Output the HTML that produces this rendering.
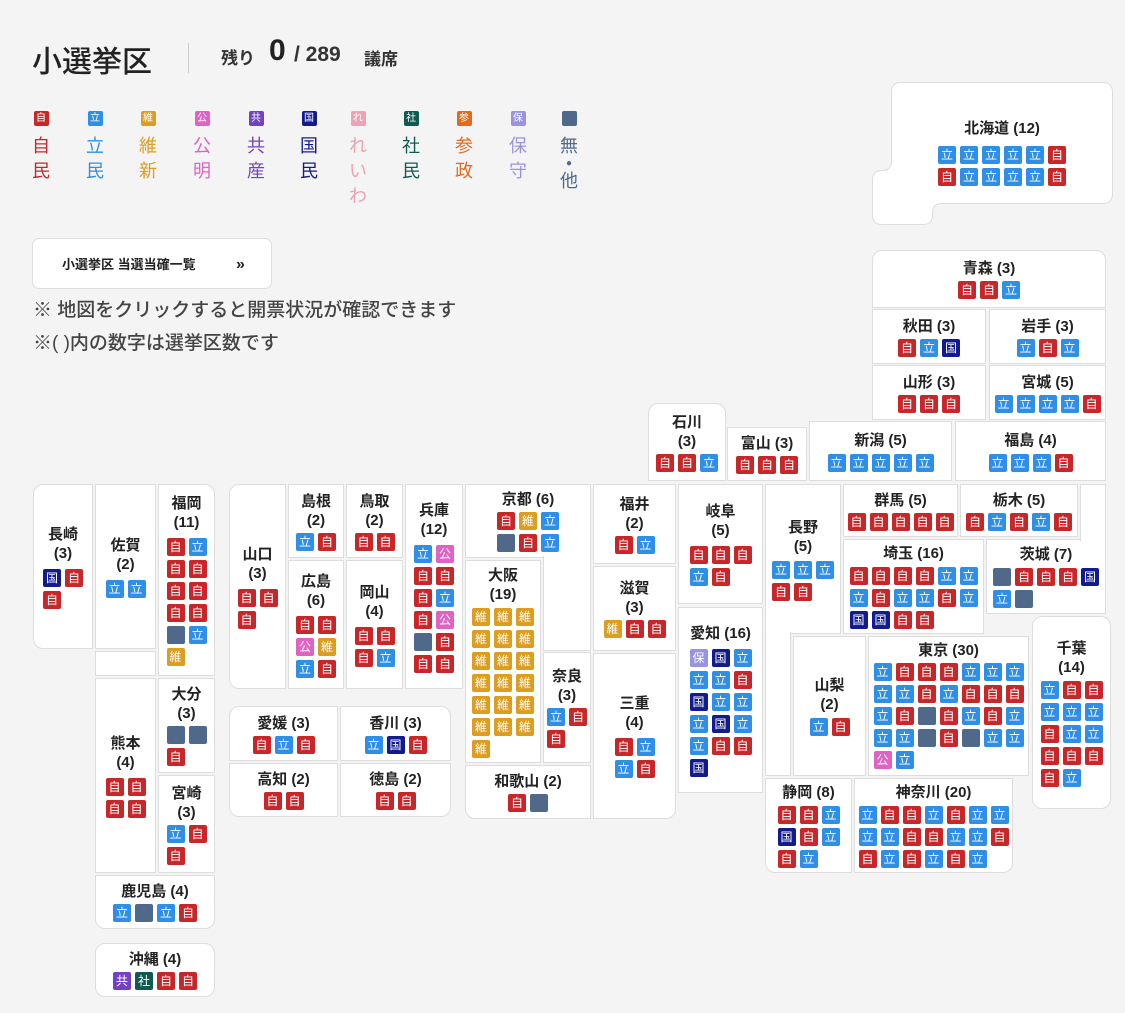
<!DOCTYPE html>
<html><head><meta charset="utf-8">
<style>
*{margin:0;padding:0;box-sizing:border-box}
body{width:1125px;height:1013px;background:#f4f4f4;position:relative;overflow:hidden;font-family:"Liberation Sans","Noto Sans CJK JP",sans-serif;color:#222}
.p{position:absolute;background:#fff;border:1px solid #ddd;display:flex;flex-direction:column;align-items:center;justify-content:center}
.t{font-weight:600;font-size:15px;line-height:19px;text-align:center;color:#222;white-space:nowrap}
.g{display:flex;flex-wrap:wrap;gap:4px;margin-top:6px}
.g i{display:block;width:18px;height:18px;border-radius:2px;color:#fff;font-style:normal;font-size:12px;line-height:18px;text-align:center}
.a{background:#c8272a}.b{background:#2f8fe6}.c{background:#dc9d20}.d{background:#e062c4}.e{background:#7242c2}.f{background:#121b8e}.g2{background:#0f5b52}.h{background:#9894e2}.m{background:#50698a}
.lg{position:absolute;top:111px;width:20px;text-align:center;font-size:18px;line-height:25px}
.lg i{display:block;width:15px;height:15px;border-radius:2px;margin:0 auto 8px;color:#fff;font-style:normal;font-size:10px;line-height:15px}
</style></head><body>

<div style="position:absolute;left:32px;top:37px;font-size:30px;font-weight:500;color:#222">小選挙区</div>
<div style="position:absolute;left:188px;top:43px;width:1px;height:30px;background:#ccc"></div>
<div style="position:absolute;left:221px;top:44px;font-size:17px;font-weight:600;color:#333">残り</div>
<div style="position:absolute;left:269px;top:34px;font-size:30px;font-weight:700;color:#222">0</div>
<div style="position:absolute;left:294px;top:43px;font-size:21px;font-weight:700;color:#333">/ 289</div>
<div style="position:absolute;left:364px;top:45px;font-size:17px;font-weight:600;color:#333">議席</div>

<div class="lg" style="left:31px;color:#c8272a"><i class="a">自</i>自<br>民</div>
<div class="lg" style="left:85px;color:#2f8fe6"><i class="b">立</i>立<br>民</div>
<div class="lg" style="left:138px;color:#dc9d20"><i class="c">維</i>維<br>新</div>
<div class="lg" style="left:192px;color:#e062c4"><i class="d">公</i>公<br>明</div>
<div class="lg" style="left:246px;color:#7242c2"><i class="e">共</i>共<br>産</div>
<div class="lg" style="left:299px;color:#121b8e"><i class="f">国</i>国<br>民</div>
<div class="lg" style="left:348px;color:#eea2b2"><i style="background:#eea2b2">れ</i>れ<br>い<br>わ</div>
<div class="lg" style="left:401px;color:#0f5b52"><i class="g2">社</i>社<br>民</div>
<div class="lg" style="left:454px;color:#e06a1e"><i style="background:#e06a1e">参</i>参<br>政</div>
<div class="lg" style="left:508px;color:#9894e2"><i class="h">保</i>保<br>守</div>
<div class="lg" style="left:559px;color:#50698a"><i class="m"></i>無<br><span style="font-size:10px;line-height:10px;display:block">●</span>他</div>

<div style="position:absolute;left:32px;top:238px;width:240px;height:51px;background:#fff;border:1px solid #ddd;border-radius:7px;font-size:13px;font-weight:700;line-height:51px;padding-left:29px;color:#222">小選挙区 当選当確一覧<span style="position:absolute;left:203px;font-size:16px">»</span></div>
<div style="position:absolute;left:33px;top:298px;font-size:19px;line-height:26px;color:#444;font-weight:500">※ 地図をクリックすると開票状況が確認できます</div>
<div style="position:absolute;left:33px;top:331px;font-size:19px;line-height:26px;color:#444;font-weight:500">※( )内の数字は選挙区数です</div>

<!-- Hokkaido -->
<svg style="position:absolute;left:0;top:0" width="1125" height="240"><path d="M901,82.5 H1102 Q1112.5,82.5 1112.5,92 V194 Q1112.5,203.5 1103,203.5 H942 Q932.5,203.5 932.5,213 V215 Q932.5,224.5 923,224.5 H882 Q872.5,224.5 872.5,215 V180 Q872.5,170.5 882,170.5 Q891.5,170.5 891.5,161 V92 Q891.5,82.5 901,82.5 Z" fill="#fff" stroke="#ddd" stroke-width="1"/></svg>
<div style="position:absolute;left:891px;top:82px;width:222px;height:122px;display:flex;flex-direction:column;align-items:center;padding-top:37px"><div class="t">北海道 (12)</div><div class="g" style="width:128px;margin-top:8px"><i class="b">立</i><i class="b">立</i><i class="b">立</i><i class="b">立</i><i class="b">立</i><i class="a">自</i><i class="a">自</i><i class="b">立</i><i class="b">立</i><i class="b">立</i><i class="b">立</i><i class="a">自</i></div></div>

<div class="p" style="left:872px;top:250px;width:234px;height:58px;border-radius:10px 10px 0 0"><div class="t">青森 (3)</div><div class="g" style="width:62px;margin-top:3px"><i class="a">自</i><i class="a">自</i><i class="b">立</i></div></div>
<div class="p" style="left:872px;top:309px;width:114px;height:55px"><div class="t">秋田 (3)</div><div class="g" style="width:62px;margin-top:3px"><i class="a">自</i><i class="b">立</i><i class="f">国</i></div></div>
<div class="p" style="left:989px;top:309px;width:117px;height:55px"><div class="t">岩手 (3)</div><div class="g" style="width:62px;margin-top:3px"><i class="b">立</i><i class="a">自</i><i class="b">立</i></div></div>
<div class="p" style="left:872px;top:365px;width:114px;height:55px"><div class="t">山形 (3)</div><div class="g" style="width:62px;margin-top:3px"><i class="a">自</i><i class="a">自</i><i class="a">自</i></div></div>
<div class="p" style="left:989px;top:365px;width:117px;height:55px"><div class="t">宮城 (5)</div><div class="g" style="width:106px;margin-top:3px"><i class="b">立</i><i class="b">立</i><i class="b">立</i><i class="b">立</i><i class="a">自</i></div></div>

<div class="p" style="left:648px;top:403px;width:78px;height:78px;border-radius:10px 10px 0 0"><div class="t">石川<br>(3)</div><div class="g" style="width:62px;margin-top:3px"><i class="a">自</i><i class="a">自</i><i class="b">立</i></div></div>
<div class="p" style="left:727px;top:427px;width:80px;height:54px"><div class="t">富山 (3)</div><div class="g" style="width:62px;margin-top:3px"><i class="a">自</i><i class="a">自</i><i class="a">自</i></div></div>
<div class="p" style="left:809px;top:421px;width:143px;height:60px"><div class="t">新潟 (5)</div><div class="g" style="width:106px;margin-top:4px"><i class="b">立</i><i class="b">立</i><i class="b">立</i><i class="b">立</i><i class="b">立</i></div></div>
<div class="p" style="left:955px;top:421px;width:151px;height:60px"><div class="t">福島 (4)</div><div class="g" style="width:84px;margin-top:4px"><i class="b">立</i><i class="b">立</i><i class="b">立</i><i class="a">自</i></div></div>

<!-- Kyushu -->
<div class="p" style="left:33px;top:484px;width:60px;height:165px;border-radius:10px 0 0 10px"><div class="t">長崎<br>(3)</div><div class="g" style="width:40px"><i class="f">国</i><i class="a">自</i><i class="a">自</i></div></div>
<div class="p" style="left:95px;top:484px;width:61px;height:165px"><div class="t">佐賀<br>(2)</div><div class="g" style="width:40px"><i class="b">立</i><i class="b">立</i></div></div>
<div class="p" style="left:95px;top:651px;width:61px;height:25px"></div>
<div class="p" style="left:158px;top:484px;width:57px;height:192px;border-radius:0 10px 0 0"><div class="t">福岡<br>(11)</div><div class="g" style="width:40px"><i class="a">自</i><i class="b">立</i><i class="a">自</i><i class="a">自</i><i class="a">自</i><i class="a">自</i><i class="a">自</i><i class="a">自</i><i class="m"></i><i class="b">立</i><i class="c">維</i></div></div>
<div class="p" style="left:95px;top:678px;width:61px;height:195px"><div class="t">熊本<br>(4)</div><div class="g" style="width:40px"><i class="a">自</i><i class="a">自</i><i class="a">自</i><i class="a">自</i></div></div>
<div class="p" style="left:158px;top:678px;width:57px;height:95px"><div class="t">大分<br>(3)</div><div class="g" style="width:40px;margin-top:3px"><i class="m"></i><i class="m"></i><i class="a">自</i></div></div>
<div class="p" style="left:158px;top:775px;width:57px;height:98px"><div class="t">宮崎<br>(3)</div><div class="g" style="width:40px;margin-top:3px"><i class="b">立</i><i class="a">自</i><i class="a">自</i></div></div>
<div class="p" style="left:95px;top:875px;width:120px;height:54px;border-radius:0 0 10px 10px"><div class="t">鹿児島 (4)</div><div class="g" style="width:84px;margin-top:3px"><i class="b">立</i><i class="m"></i><i class="b">立</i><i class="a">自</i></div></div>
<div class="p" style="left:95px;top:943px;width:120px;height:54px;border-radius:10px"><div class="t">沖縄 (4)</div><div class="g" style="width:84px;margin-top:3px"><i class="e">共</i><i class="g2">社</i><i class="a">自</i><i class="a">自</i></div></div>

<!-- Chugoku -->
<div class="p" style="left:229px;top:484px;width:57px;height:205px;border-radius:10px 0 0 10px"><div class="t">山口<br>(3)</div><div class="g" style="width:40px"><i class="a">自</i><i class="a">自</i><i class="a">自</i></div></div>
<div class="p" style="left:288px;top:484px;width:56px;height:74px"><div class="t">島根<br>(2)</div><div class="g" style="width:40px;margin-top:3px"><i class="b">立</i><i class="a">自</i></div></div>
<div class="p" style="left:346px;top:484px;width:57px;height:74px"><div class="t">鳥取<br>(2)</div><div class="g" style="width:40px;margin-top:3px"><i class="a">自</i><i class="a">自</i></div></div>
<div class="p" style="left:288px;top:560px;width:56px;height:129px"><div class="t">広島<br>(6)</div><div class="g" style="width:40px"><i class="a">自</i><i class="a">自</i><i class="d">公</i><i class="c">維</i><i class="b">立</i><i class="a">自</i></div></div>
<div class="p" style="left:346px;top:560px;width:57px;height:129px"><div class="t">岡山<br>(4)</div><div class="g" style="width:40px"><i class="a">自</i><i class="a">自</i><i class="a">自</i><i class="b">立</i></div></div>
<div class="p" style="left:405px;top:484px;width:58px;height:205px"><div class="t">兵庫<br>(12)</div><div class="g" style="width:40px"><i class="b">立</i><i class="d">公</i><i class="a">自</i><i class="a">自</i><i class="a">自</i><i class="b">立</i><i class="a">自</i><i class="d">公</i><i class="m"></i><i class="a">自</i><i class="a">自</i><i class="a">自</i></div></div>

<!-- Shikoku -->
<div class="p" style="left:229px;top:706px;width:109px;height:55px;border-radius:10px 0 0 0"><div class="t">愛媛 (3)</div><div class="g" style="width:62px;margin-top:3px"><i class="a">自</i><i class="b">立</i><i class="a">自</i></div></div>
<div class="p" style="left:340px;top:706px;width:111px;height:55px;border-radius:0 10px 0 0"><div class="t">香川 (3)</div><div class="g" style="width:62px;margin-top:3px"><i class="b">立</i><i class="f">国</i><i class="a">自</i></div></div>
<div class="p" style="left:229px;top:763px;width:109px;height:54px;border-radius:0 0 0 10px"><div class="t">高知 (2)</div><div class="g" style="width:40px;margin-top:3px"><i class="a">自</i><i class="a">自</i></div></div>
<div class="p" style="left:340px;top:763px;width:111px;height:54px;border-radius:0 0 10px 0"><div class="t">徳島 (2)</div><div class="g" style="width:40px;margin-top:3px"><i class="a">自</i><i class="a">自</i></div></div>

<!-- Kinki -->
<div class="p" style="left:465px;top:484px;width:126px;height:74px"><div class="t">京都 (6)</div><div class="g" style="width:62px;margin-top:3px"><i class="a">自</i><i class="c">維</i><i class="b">立</i><i class="m"></i><i class="a">自</i><i class="b">立</i></div></div>
<div class="p" style="left:543px;top:556px;width:48px;height:95px;border-top:none"></div>
<div class="p" style="left:465px;top:560px;width:76px;height:203px"><div class="t">大阪<br>(19)</div><div class="g" style="width:62px;margin-top:4px"><i class="c">維</i><i class="c">維</i><i class="c">維</i><i class="c">維</i><i class="c">維</i><i class="c">維</i><i class="c">維</i><i class="c">維</i><i class="c">維</i><i class="c">維</i><i class="c">維</i><i class="c">維</i><i class="c">維</i><i class="c">維</i><i class="c">維</i><i class="c">維</i><i class="c">維</i><i class="c">維</i><i class="c">維</i></div></div>
<div class="p" style="left:543px;top:652px;width:48px;height:111px"><div class="t">奈良<br>(3)</div><div class="g" style="width:40px;margin-top:3px"><i class="b">立</i><i class="a">自</i><i class="a">自</i></div></div>
<div class="p" style="left:465px;top:765px;width:126px;height:54px;border-radius:0 0 0 10px"><div class="t">和歌山 (2)</div><div class="g" style="width:40px;margin-top:3px"><i class="a">自</i><i class="m"></i></div></div>
<div class="p" style="left:593px;top:484px;width:83px;height:80px"><div class="t">福井<br>(2)</div><div class="g" style="width:40px;margin-top:3px"><i class="a">自</i><i class="b">立</i></div></div>
<div class="p" style="left:593px;top:566px;width:83px;height:85px"><div class="t">滋賀<br>(3)</div><div class="g" style="width:62px;margin-top:3px"><i class="c">維</i><i class="a">自</i><i class="a">自</i></div></div>
<div class="p" style="left:593px;top:653px;width:83px;height:166px;border-radius:0 0 10px 0"><div class="t">三重<br>(4)</div><div class="g" style="width:40px"><i class="a">自</i><i class="b">立</i><i class="b">立</i><i class="a">自</i></div></div>

<!-- Chubu -->
<div class="p" style="left:678px;top:484px;width:85px;height:120px"><div class="t">岐阜<br>(5)</div><div class="g" style="width:62px"><i class="a">自</i><i class="a">自</i><i class="a">自</i><i class="b">立</i><i class="a">自</i></div></div>
<div class="p" style="left:678px;top:607px;width:85px;height:186px"><div class="t">愛知 (16)</div><div class="g" style="width:62px"><i class="h">保</i><i class="f">国</i><i class="b">立</i><i class="b">立</i><i class="b">立</i><i class="a">自</i><i class="f">国</i><i class="b">立</i><i class="b">立</i><i class="b">立</i><i class="f">国</i><i class="b">立</i><i class="b">立</i><i class="a">自</i><i class="a">自</i><i class="f">国</i></div></div>
<div class="p" style="left:765px;top:484px;width:76px;height:150px"><div class="t">長野<br>(5)</div><div class="g" style="width:62px;margin-top:5px"><i class="b">立</i><i class="b">立</i><i class="b">立</i><i class="a">自</i><i class="a">自</i></div></div>
<div class="p" style="left:765px;top:632px;width:26px;height:144px;border-top:none"></div>
<div class="p" style="left:793px;top:636px;width:73px;height:140px"><div class="t">山梨<br>(2)</div><div class="g" style="width:40px;margin-top:4px"><i class="b">立</i><i class="a">自</i></div></div>
<div class="p" style="left:765px;top:778px;width:87px;height:95px;border-radius:0 0 0 10px"><div class="t">静岡 (8)</div><div class="g" style="width:62px;margin-top:4px"><i class="a">自</i><i class="a">自</i><i class="b">立</i><i class="f">国</i><i class="a">自</i><i class="b">立</i><i class="a">自</i><i class="b">立</i></div></div>

<!-- Kanto -->
<div class="p" style="left:843px;top:484px;width:115px;height:53px"><div class="t">群馬 (5)</div><div class="g" style="width:106px;margin-top:3px"><i class="a">自</i><i class="a">自</i><i class="a">自</i><i class="a">自</i><i class="a">自</i></div></div>
<div class="p" style="left:960px;top:484px;width:118px;height:53px"><div class="t">栃木 (5)</div><div class="g" style="width:106px;margin-top:3px"><i class="a">自</i><i class="b">立</i><i class="a">自</i><i class="b">立</i><i class="a">自</i></div></div>
<div class="p" style="left:843px;top:539px;width:141px;height:95px"><div class="t">埼玉 (16)</div><div class="g" style="width:128px;margin-top:4px"><i class="a">自</i><i class="a">自</i><i class="a">自</i><i class="a">自</i><i class="b">立</i><i class="b">立</i><i class="b">立</i><i class="a">自</i><i class="b">立</i><i class="b">立</i><i class="a">自</i><i class="b">立</i><i class="f">国</i><i class="f">国</i><i class="a">自</i><i class="a">自</i></div></div>
<div class="p" style="left:986px;top:539px;width:120px;height:75px"><div class="t">茨城 (7)</div><div class="g" style="width:106px;margin-top:4px"><i class="m"></i><i class="a">自</i><i class="a">自</i><i class="a">自</i><i class="f">国</i><i class="b">立</i><i class="m"></i></div></div>
<div class="p" style="left:1080px;top:484px;width:26px;height:57px;border-bottom:none"></div>
<div class="p" style="left:1032px;top:616px;width:79px;height:193px;border-radius:10px"><div class="t">千葉<br>(14)</div><div class="g" style="width:62px;margin-top:4px"><i class="b">立</i><i class="a">自</i><i class="a">自</i><i class="b">立</i><i class="b">立</i><i class="b">立</i><i class="a">自</i><i class="b">立</i><i class="b">立</i><i class="a">自</i><i class="a">自</i><i class="a">自</i><i class="a">自</i><i class="b">立</i></div></div>
<div class="p" style="left:868px;top:636px;width:161px;height:140px;justify-content:flex-start;padding-top:4px"><div class="t">東京 (30)</div><div class="g" style="width:150px;margin-top:3px"><i class="b">立</i><i class="a">自</i><i class="a">自</i><i class="a">自</i><i class="b">立</i><i class="b">立</i><i class="b">立</i><i class="b">立</i><i class="b">立</i><i class="a">自</i><i class="b">立</i><i class="a">自</i><i class="a">自</i><i class="a">自</i><i class="b">立</i><i class="a">自</i><i class="m"></i><i class="a">自</i><i class="b">立</i><i class="a">自</i><i class="b">立</i><i class="b">立</i><i class="b">立</i><i class="m"></i><i class="a">自</i><i class="m"></i><i class="b">立</i><i class="b">立</i><i class="d">公</i><i class="b">立</i></div></div>
<div class="p" style="left:854px;top:778px;width:159px;height:95px;border-radius:0 0 10px 0"><div class="t">神奈川 (20)</div><div class="g" style="width:150px;margin-top:4px"><i class="b">立</i><i class="a">自</i><i class="a">自</i><i class="b">立</i><i class="a">自</i><i class="b">立</i><i class="b">立</i><i class="b">立</i><i class="b">立</i><i class="a">自</i><i class="a">自</i><i class="b">立</i><i class="b">立</i><i class="a">自</i><i class="a">自</i><i class="b">立</i><i class="a">自</i><i class="b">立</i><i class="a">自</i><i class="b">立</i></div></div>

</body></html>
